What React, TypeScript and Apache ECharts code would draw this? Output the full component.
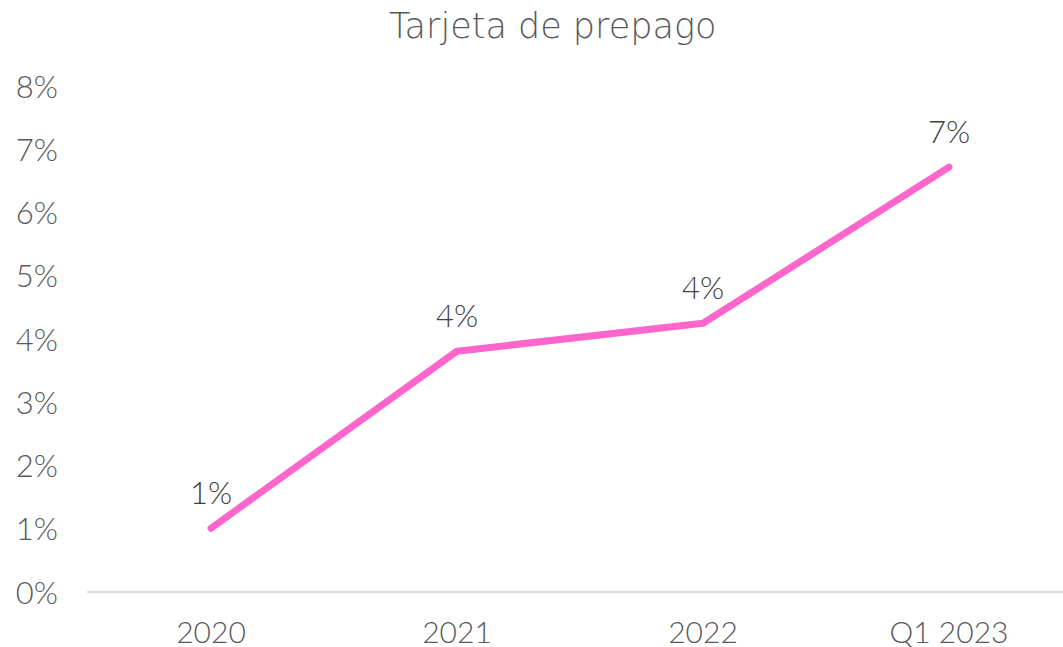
import React, { useEffect, useRef } from "react";
import * as echarts from "echarts";

const categories = ["2020", "2021", "2022", "Q1 2023"];
const values = [1.0, 3.8, 4.24, 6.71];
const yTicks = { min: 0, max: 8, interval: 1 };
const titleText = "Tarjeta de prepago";

export default function App() {
  const ref = useRef<HTMLDivElement>(null);
  useEffect(() => {
    if (!ref.current) return;
    const chart = echarts.init(ref.current, null, { renderer: "svg" });
    const font = "Lato";
    chart.setOption({
      animation: false,
      backgroundColor: "#ffffff",
      title: {
        text: titleText,
        left: 384,
        top: 3,
        textStyle: { fontFamily: "DejaVu Sans", fontSize: 35, fontWeight: 300, color: "#595959" },
      },
      grid: { left: 88, top: 85.5, width: 984, bottom: 55.5, outerBoundsMode: "none" },
      xAxis: {
        type: "category",
        data: categories,
        boundaryGap: true,
        axisLine: { lineStyle: { color: "#d9d9d9", width: 2 } },
        axisTick: { show: false },
        axisLabel: {
          fontFamily: font,
          fontSize: 30,
          fontWeight: 300,
          lineHeight: 30,
          color: "#595959",
          margin: 24,
        },
      },
      yAxis: {
        type: "value",
        min: yTicks.min,
        max: yTicks.max,
        interval: yTicks.interval,
        splitLine: { show: false },
        axisLine: { show: false },
        axisTick: { show: false },
        axisLabel: {
          fontFamily: font,
          fontSize: 31,
          fontWeight: 300,
          color: "#595959",
          margin: 30,
          formatter: (v: number) => `${Math.round(v)}%`,
        },
      },
      series: [
        {
          type: "line",
          data: values,
          symbol: "circle",
          symbolSize: 0,
          showSymbol: true,
          itemStyle: { color: "#ff66cc" },
          lineStyle: { color: "#ff66cc", width: 7, cap: "round", join: "round" },
          label: {
            show: true,
            position: "top",
            distance: 21,
            fontFamily: font,
            fontSize: 31,
            fontWeight: 300,
            color: "#404040",
            formatter: (p: any) => `${Math.round(p.value)}%`,
          },
        },
      ],
    });
    return () => chart.dispose();
  }, []);
  return (
    <div
      ref={ref}
      style={{ position: "absolute", left: 0, top: 0, width: 1063, height: 647 }}
    />
  );
}
